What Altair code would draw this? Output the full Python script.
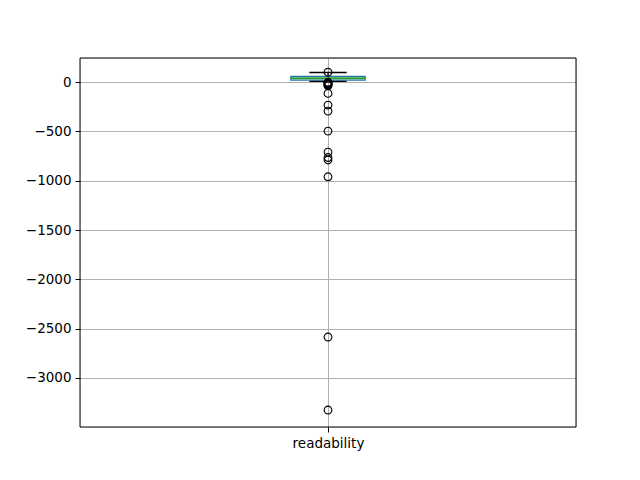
import altair as alt
import pandas as pd

category = "readability"
position = 1.0
q1 = 20
median = 38
q3 = 58
whisker_low = 7
whisker_high = 97
fliers = [100, -2, -8, -15, -20, -25, -30, -38, -115, -233, -294, -497,
          -710, -765, -790, -960, -2585, -3325]
y_ticks = [0, -500, -1000, -1500, -2000, -2500, -3000]

box_half = 0.075
cap_half = 0.0375

stats = pd.DataFrame({
    "x": [position], "xl": [position - box_half], "xr": [position + box_half],
    "cl": [position - cap_half], "cr": [position + cap_half],
    "q1": [q1], "q3": [q3], "med": [median], "lo": [whisker_low], "hi": [whisker_high],
})
flier_df = pd.DataFrame({"x": [position] * len(fliers), "v": fliers})

xscale = alt.Scale(domain=[0.5, 1.5], nice=False, zero=False)
yscale = alt.Scale(domain=[-3497, 244], nice=False, zero=False)

xaxis = alt.Axis(values=[position], labelExpr="'" + category + "'", title=None,
                 grid=True, gridColor="#b0b0b0", gridWidth=1, tickSize=5,
                 tickColor="black", domain=False, labelFontSize=13.5,
                 labelFont="DejaVu Sans", labelColor="black", labelPadding=4)
yaxis = alt.Axis(values=y_ticks, title=None, grid=True, gridColor="#b0b0b0",
                 gridWidth=1, tickSize=5, tickColor="black", domain=False,
                 labelFontSize=13.5, labelFont="DejaVu Sans", labelColor="black",
                 labelPadding=4, labelExpr="replace(format(datum.value, 'd'), '-', '\u2212')")

base = alt.Chart(stats)

whisk_low = base.mark_rule(color="black", strokeWidth=1.2).encode(
    x=alt.X("x:Q", scale=xscale, axis=xaxis), y=alt.Y("lo:Q", scale=yscale, axis=yaxis), y2="q1:Q")
whisk_high = base.mark_rule(color="black", strokeWidth=1.2).encode(
    x="x:Q", y="q3:Q", y2="hi:Q")
cap_low = base.mark_rule(color="black", strokeWidth=1.4).encode(
    x="cl:Q", x2="cr:Q", y="lo:Q")
cap_high = base.mark_rule(color="black", strokeWidth=1.4).encode(
    x="cl:Q", x2="cr:Q", y="hi:Q")
box = base.mark_rect(filled=False, stroke="#1f77b4", strokeWidth=1.2).encode(
    x="xl:Q", x2="xr:Q", y="q1:Q", y2="q3:Q")
med = base.mark_rule(color="#2ca02c", strokeWidth=2).encode(
    x="xl:Q", x2="xr:Q", y="med:Q")
pts = alt.Chart(flier_df).mark_point(shape="circle", filled=False, color="black",
                                     size=60, strokeWidth=1.1, opacity=1).encode(
    x="x:Q", y="v:Q")
frame = base.mark_rect(filled=False, stroke="black", strokeWidth=1).encode(
    x=alt.value(0), x2=alt.value(496), y=alt.value(0), y2=alt.value(369))

chart = alt.layer(whisk_low, whisk_high, box, med, cap_low, cap_high, pts, frame).properties(
    width=496, height=369,
    autosize=alt.AutoSizeParams(type="none"),
    padding={"left": 72, "top": 50, "right": 56, "bottom": 45},
).configure_view(stroke=None).configure(background="white")

chart.save("out.html", embed_options={"renderer": "svg", "actions": False})
